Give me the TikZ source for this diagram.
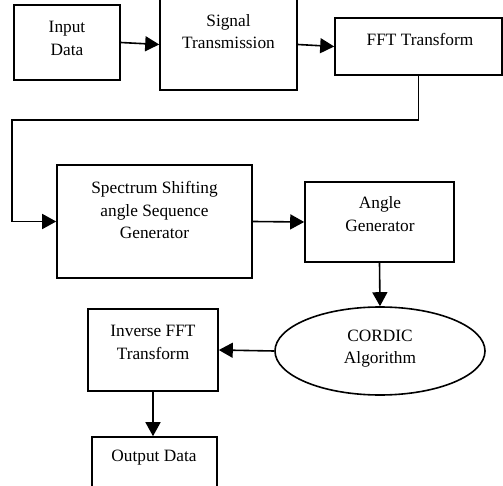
\documentclass[tikz,border=0pt]{standalone}
\usepackage{fontspec}
\setmainfont{Liberation Serif}
\usetikzlibrary{arrows.meta,shapes.geometric}
\begin{document}
\begin{tikzpicture}[x=1pt,y=-1pt,
  box/.style={draw,line width=1.6pt,rectangle,inner sep=0pt},
  oval/.style={draw,line width=1.6pt,ellipse,inner sep=0pt},
  txt/.style={align=center,inner sep=0pt,font=\fontsize{17.3}{22.5}\selectfont},
  arr/.style={line width=1.6pt,-{Triangle[length=14pt,width=15pt]}},
  conn/.style={line width=1.6pt}]
\useasboundingbox (0,0) rectangle (503,486);
\clip (0,0) rectangle (503,486);
% boxes
\node[box,minimum width=106pt,minimum height=75pt] (in) at (67,42.5) {};
\node[box,minimum width=137pt,minimum height=91pt] (sig) at (228.5,44.5) {};
\node[box,minimum width=167pt,minimum height=57pt] (fft) at (418.5,46.5) {};
\node[box,minimum width=195pt,minimum height=113pt] (sas) at (154.5,221.5) {};
\node[box,minimum width=149pt,minimum height=80pt] (ang) at (379.5,222) {};
\node[oval,minimum width=210pt,minimum height=88pt] (cor) at (380,351) {};
\node[box,minimum width=130pt,minimum height=82pt] (inv) at (153,350) {};
\node[box,minimum width=125pt,minimum height=70pt] (out) at (154.5,472) {};
% texts
\node[txt] (inT) at (67,38.5) {Input\\Data};
\node[txt] (sigT) at (228.5,31.5) {Signal\\Transmission};
\node[txt] (fftT) at (420,39) {FFT Transform};
\node[txt] (sasT) at (154.5,210) {Spectrum Shifting\\angle Sequence\\Generator};
\node[txt] (angT) at (380,214) {Angle\\Generator};
\node[txt] (corT) at (380,348.5) {CORDIC\\Algorithm};
\node[txt] (invT) at (153,342.5) {Inverse FFT\\Transform};
\node[txt] (outT) at (154,458) {Output Data};
% connectors
\coordinate (b1) at (12,120);
\draw[arr] (in.east) -- (sig.west);
\draw[arr] (sig.east) -- (fft.west);
\draw[arr] (fft.south) |- (b1) |- (sas.west);
\draw[arr] (sas.east) -- (ang.west);
\draw[arr] (ang.south) -- (cor.north);
\draw[arr] (cor.west) -- (inv.east);
\draw[arr] (inv.south) -- (inv.south |- out.north);
\end{tikzpicture}
\end{document}
